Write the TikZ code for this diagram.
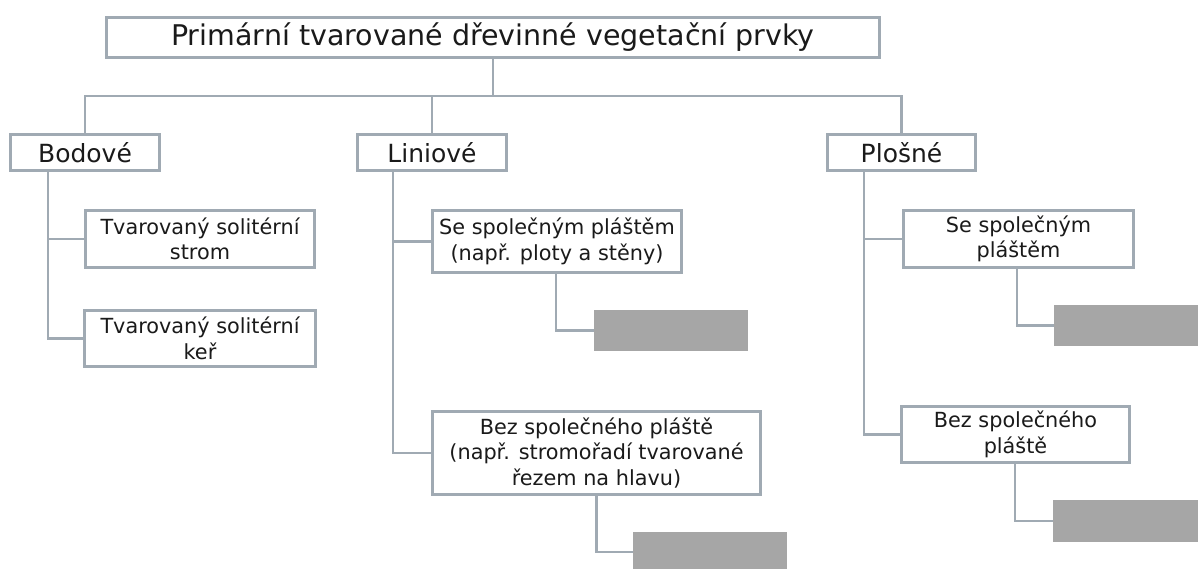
\documentclass[tikz,border=0pt]{standalone}
\usepackage{fontspec}
\setmainfont{DejaVu Sans}
\definecolor{lc}{RGB}{160,170,179}
\definecolor{gf}{RGB}{166,166,166}
\definecolor{tc}{RGB}{26,26,26}
\begin{document}
\begin{tikzpicture}[x=1pt,y=-1pt,
  box/.style={draw=lc, line width=2.8pt, fill=white, text=tc, align=center, inner sep=0pt, anchor=center},
  conn/.style={draw=lc, line width=2.8pt},
  gbox/.style={fill=gf, draw=none, inner sep=0pt, anchor=center},
  big/.style={font=\fontsize{28.5}{33}\selectfont},
  mid/.style={font=\fontsize{25}{29}\selectfont},
  small/.style={font=\fontsize{20.8}{25.5}\selectfont}]
\clip (0,0) rectangle (1198,568);
\fill[white] (0,0) rectangle (1198,568);

% top level
\node[box,big,minimum width=773pt,minimum height=40pt] (title) at (493,37.5) {Primární tvarované dřevinné vegetační prvky};
\node[box,mid,minimum width=149pt,minimum height=36pt] (bod) at (85,152.5) {Bodové};
\node[box,mid,minimum width=149pt,minimum height=36pt] (lin) at (432,152.5) {Liniové};
\node[box,mid,minimum width=148pt,minimum height=36pt] (plo) at (901.5,152.5) {Plošné};
\coordinate (bar) at (493,96);

% bodové children
\node[box,small,minimum width=229pt,minimum height=57pt] (strom) at (200,239) {Tvarovaný solitérní\\strom};
\node[box,small,minimum width=231pt,minimum height=56pt] (ker) at (200,338.5) {Tvarovaný solitérní\\keř};

% liniové children
\node[box,small,minimum width=249pt,minimum height=62pt] (sslin) at (557,241.5) {Se společným pláštěm\\(např. ploty a stěny)};
\node[box,small,minimum width=328pt,minimum height=83pt] (bezlin) at (596.5,453) {Bez společného pláště\\(např. stromořadí tvarované\\řezem na hlavu)};
\node[gbox,minimum width=154pt,minimum height=41pt] (g1) at (671,330.5) {};
\node[gbox,minimum width=154pt,minimum height=40pt] (g2) at (710,552) {};

% plošné children
\node[box,small,minimum width=230pt,minimum height=57pt] (sspl) at (1018.5,239) {Se společným\\pláštěm};
\node[box,small,minimum width=228pt,minimum height=56pt] (bezpl) at (1015.5,434.5) {Bez společného\\pláště};
\node[gbox,minimum width=154pt,minimum height=41pt] (g3) at (1131,325.5) {};
\node[gbox,minimum width=154pt,minimum height=42pt] (g4) at (1130,521) {};

% connectors
\draw[conn] (title.south) -- (bar);
\draw[conn] (bod.north) |- (bar) -| (plo.north);
\draw[conn] (lin.north) -- (lin.north |- bar);

\draw[conn] ([xshift=-37pt]bod.south) |- (ker.west);
\draw[conn] ([xshift=-37pt]bod.south |- strom.west) -- (strom.west);

\draw[conn] ([xshift=-39pt]lin.south) |- (bezlin.west);
\draw[conn] ([xshift=-39pt]lin.south |- sslin.west) -- (sslin.west);
\draw[conn] ([xshift=-1pt]sslin.south) |- (g1.west);
\draw[conn] (bezlin.south) |- (g2.west);

\draw[conn] ([xshift=-37.5pt]plo.south) |- (bezpl.west);
\draw[conn] ([xshift=-37.5pt]plo.south |- sspl.west) -- (sspl.west);
\draw[conn] ([xshift=-1.5pt]sspl.south) |- (g3.west);
\draw[conn] ([xshift=-0.5pt]bezpl.south) |- (g4.west);
\end{tikzpicture}
\end{document}
